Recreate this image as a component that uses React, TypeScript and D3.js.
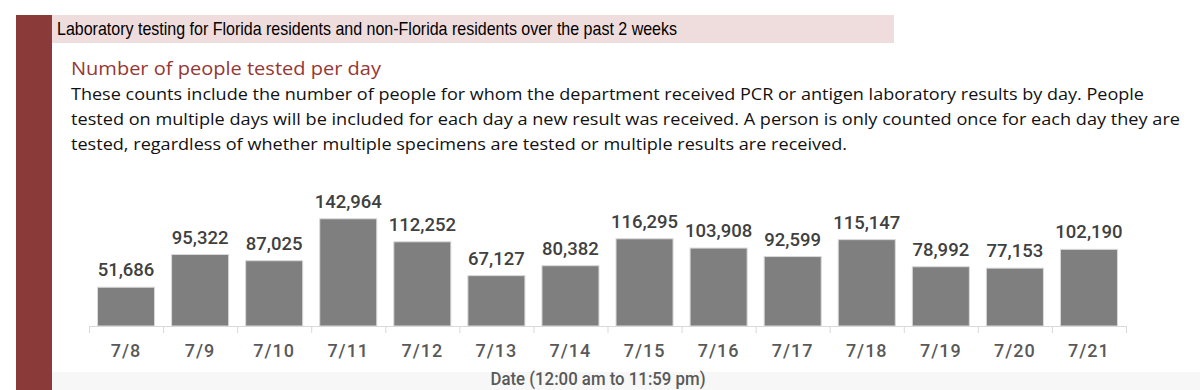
import React, { useEffect, useRef } from "react";
import * as d3 from "d3";

const dates = ["7/8", "7/9", "7/10", "7/11", "7/12", "7/13", "7/14", "7/15", "7/16", "7/17", "7/18", "7/19", "7/20", "7/21"];
const counts = [51686, 95322, 87025, 142964, 112252, 67127, 80382, 116295, 103908, 92599, 115147, 78992, 77153, 102190];

const headerText = "Laboratory testing for Florida residents and non-Florida residents over the past 2 weeks";
const subtitle = "Number of people tested per day";
const bodyLines = [
  "These counts include the number of people for whom the department received PCR or antigen laboratory results by day. People",
  "tested on multiple days will be included for each day a new result was received. A person is only counted once for each day they are",
  "tested, regardless of whether multiple specimens are tested or multiple results are received.",
];
const bodyWidths = [1073, 1109, 776];
const xTitle = "Date (12:00 am to 11:59 pm)";

export default function App() {
  const svgRef = useRef<SVGSVGElement>(null);

  useEffect(() => {
    const width = 1200;
    const height = 390;
    const svg = d3.select(svgRef.current).attr("width", width).attr("height", height);
    svg.selectAll("*").remove();

    // background pieces
    svg.append("rect").attr("x", 0).attr("y", 0).attr("width", width).attr("height", height).attr("fill", "#fff");
    svg.append("rect").attr("x", 52).attr("y", 372).attr("width", width - 52).attr("height", 18).attr("fill", "#f7f7f7");
    svg.append("rect").attr("x", 16).attr("y", 15).attr("width", 36).attr("height", height - 15).attr("fill", "#8b3a3a");
    svg.append("rect").attr("x", 52).attr("y", 15).attr("width", 842).attr("height", 28).attr("fill", "#efdcdc");

    svg.append("text")
      .attr("x", 57)
      .attr("y", 35)
      .attr("font-family", "'Liberation Sans', Arial, sans-serif")
      .attr("font-size", 18.5)
      .attr("fill", "#000")
      .attr("textLength", 620)
      .attr("lengthAdjust", "spacingAndGlyphs")
      .text(headerText);

    svg.append("text")
      .attr("x", 71)
      .attr("y", 75)
      .attr("font-family", "'Open Sans', 'Noto Sans', sans-serif")
      .attr("font-size", 19)
      .attr("fill", "#953735")
      .attr("textLength", 310)
      .attr("lengthAdjust", "spacingAndGlyphs")
      .text(subtitle);

    bodyLines.forEach((line, i) => {
      svg.append("text")
        .attr("x", 71)
        .attr("y", 100 + i * 25)
        .attr("font-family", "'Open Sans', 'Noto Sans', sans-serif")
        .attr("font-size", 16.5)
        .attr("fill", "#111")
        .attr("textLength", bodyWidths[i])
        .attr("lengthAdjust", "spacingAndGlyphs")
        .text(line);
    });

    // chart
    const x = d3.scaleBand<string>().domain(dates).range([89, 1126]).paddingInner(0.23).paddingOuter(0.115);
    const y = d3.scaleLinear().domain([0, 160000]).range([326, 206]);

    const g = svg.append("g");

    g.selectAll("rect.bar")
      .data(counts)
      .join("rect")
      .attr("class", "bar")
      .attr("x", (_, i) => x(dates[i])!)
      .attr("y", (d) => y(d))
      .attr("width", x.bandwidth())
      .attr("height", (d) => y(0) - y(d))
      .attr("fill", "#7f7f7f")
      .attr("stroke", "#d9d9d9")
      .attr("stroke-width", 1);

    // axis line and ticks at category boundaries
    const step = x.step();
    const x0 = x.range()[0];
    g.append("line")
      .attr("x1", x0).attr("x2", x.range()[1])
      .attr("y1", y(0) + 0.5).attr("y2", y(0) + 0.5)
      .attr("stroke", "#d9d9d9");
    g.selectAll("line.tick")
      .data(d3.range(dates.length + 1))
      .join("line")
      .attr("class", "tick")
      .attr("x1", (i) => x0 + i * step + 0.5)
      .attr("x2", (i) => x0 + i * step + 0.5)
      .attr("y1", y(0))
      .attr("y2", y(0) + 7)
      .attr("stroke", "#d9d9d9");

    // value labels
    g.selectAll("text.val")
      .data(counts)
      .join("text")
      .attr("class", "val")
      .attr("x", (_, i) => x(dates[i])! + x.bandwidth() / 2)
      .attr("y", (d) => y(d) - 11)
      .attr("text-anchor", "middle")
      .attr("font-family", "Roboto, sans-serif")
      .attr("font-weight", 500)
      .attr("font-size", 18.5)
      .attr("fill", "#404040")
      .text((d) => d3.format(",")(d));

    // date labels
    g.selectAll("text.date")
      .data(dates)
      .join("text")
      .attr("class", "date")
      .attr("x", (d) => x(d)! + x.bandwidth() / 2)
      .attr("y", 357)
      .attr("text-anchor", "middle")
      .attr("font-family", "Roboto, sans-serif")
      .attr("font-weight", 500)
      .attr("font-size", 18)
      .attr("letter-spacing", 1)
      .attr("fill", "#595959")
      .text((d) => d);

    svg.append("text")
      .attr("x", 598)
      .attr("y", 385)
      .attr("text-anchor", "middle")
      .attr("font-family", "Roboto, sans-serif")
      .attr("font-weight", 500)
      .attr("font-size", 17.5)
      .attr("fill", "#595959")
      .attr("textLength", 215)
      .attr("lengthAdjust", "spacingAndGlyphs")
      .text(xTitle);
  }, []);

  return <svg ref={svgRef} style={{ position: "absolute", left: 0, top: 0 }} />;
}
